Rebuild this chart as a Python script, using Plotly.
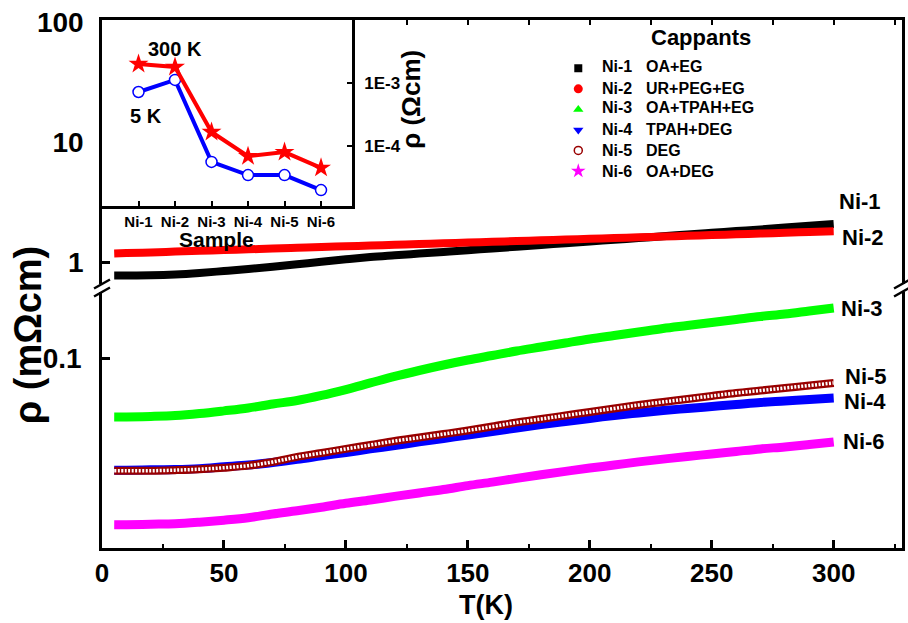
import plotly.graph_objects as go

# ---------------- data ----------------
temps = [5, 10, 20, 30, 40, 50, 60, 70, 80, 90, 100, 110, 120, 130, 140, 150,
         160, 170, 180, 190, 200, 210, 220, 230, 240, 250, 260, 270, 280, 290, 300]

rho_ni1 = [0.772, 0.772, 0.775, 0.787, 0.810, 0.841, 0.874, 0.912, 0.957, 1.006, 1.053,
           1.099, 1.137, 1.175, 1.214, 1.254, 1.298, 1.341, 1.386, 1.434, 1.482, 1.531,
           1.585, 1.637, 1.695, 1.751, 1.809, 1.869, 1.935, 2.003, 2.073]
rho_ni2 = [1.177, 1.186, 1.202, 1.221, 1.240, 1.257, 1.276, 1.293, 1.313, 1.334, 1.352,
           1.372, 1.391, 1.413, 1.431, 1.454, 1.473, 1.496, 1.516, 1.540, 1.561, 1.585,
           1.606, 1.631, 1.653, 1.679, 1.701, 1.727, 1.751, 1.778, 1.803]
rho_ni3 = [0.0568, 0.0568, 0.0571, 0.0576, 0.0587, 0.0602, 0.0619, 0.0643, 0.0665, 0.0698,
           0.0739, 0.0787, 0.0838, 0.0887, 0.0935, 0.0981, 0.1024, 0.1069, 0.1111, 0.1155,
           0.1200, 0.1241, 0.1283, 0.1327, 0.1366, 0.1406, 0.1447, 0.1489, 0.1525, 0.1570,
           0.1616]
rho_ni4 = [0.0341, 0.0341, 0.0342, 0.0343, 0.0346, 0.0352, 0.0358, 0.0367, 0.0378, 0.0391,
           0.0404, 0.0418, 0.0432, 0.0447, 0.0462, 0.0478, 0.0494, 0.0511, 0.0528, 0.0544,
           0.0560, 0.0576, 0.0590, 0.0604, 0.0616, 0.0628, 0.0640, 0.0653, 0.0662, 0.0672,
           0.0681]
rho_ni5 = [0.0339, 0.0339, 0.0339, 0.0341, 0.0344, 0.0349, 0.0356, 0.0369, 0.0387, 0.0402,
           0.0418, 0.0434, 0.0451, 0.0466, 0.0482, 0.0499, 0.0518, 0.0539, 0.0557, 0.0576,
           0.0596, 0.0616, 0.0637, 0.0656, 0.0675, 0.0695, 0.0715, 0.0732, 0.0750, 0.0768,
           0.0787]
rho_ni6 = [0.0202, 0.0202, 0.0203, 0.0204, 0.0207, 0.0211, 0.0216, 0.0224, 0.0231, 0.0239,
           0.0248, 0.0256, 0.0265, 0.0274, 0.0283, 0.0294, 0.0304, 0.0315, 0.0326, 0.0337,
           0.0348, 0.0358, 0.0369, 0.0379, 0.0389, 0.0398, 0.0408, 0.0418, 0.0426, 0.0436,
           0.0447]

samples = ["Ni-1", "Ni-2", "Ni-3", "Ni-4", "Ni-5", "Ni-6"]
cappants = ["OA+EG", "UR+PEG+EG", "OA+TPAH+EG", "TPAH+DEG", "DEG", "OA+DEG"]

# inset (Ohm cm)
inset_300K = [2.0e-3, 1.8e-3, 1.67e-4, 6.9e-5, 8.0e-5, 4.5e-5]
inset_5K = [7.2e-4, 1.12e-3, 5.6e-5, 3.46e-5, 3.46e-5, 2.0e-5]

upper_ticks = [1, 10, 100]
lower_ticks = [0.1]
inset_ticks = [1e-4, 1e-3]
inset_ticktext = ["1E-4", "1E-3"]

# ---------------- style ----------------
FONT = "Liberation Sans"
colors = ["#000000", "#FF0000", "#00FF00", "#0000FF", "#990000", "#FF00FF"]
symbols = ["square", "circle", "triangle-up", "triangle-down", "circle-open", "star"]
msizes = [8, 9, 9, 9, 8, 11]
AXW = 2.5

W, H = 908, 623
L, R, T, B = 102, 3, 20, 75
PW, PH = W - L - R, H - T - B


def px(x):
    return (x - L) / PW


def py(y):
    return (H - B - y) / PH


fig = go.Figure()

upper = [rho_ni1, rho_ni2]
lower = [rho_ni3, rho_ni4, rho_ni5, rho_ni6]

for i, ys in enumerate(upper):
    fig.add_trace(go.Scatter(x=temps, y=ys, mode="lines", xaxis="x2", yaxis="y",
                             line=dict(color=colors[i], width=8, shape="spline"),
                             showlegend=False, hoverinfo="skip"))

for j, ys in enumerate(lower):
    i = j + 2
    if symbols[i] == "circle-open":
        fig.add_trace(go.Scatter(x=temps, y=ys, mode="lines", xaxis="x", yaxis="y2",
                                 line=dict(color=colors[i], width=8, shape="spline"),
                                 showlegend=False, hoverinfo="skip"))
        fig.add_trace(go.Scatter(x=temps, y=ys, mode="lines", xaxis="x", yaxis="y2",
                                 line=dict(color="white", width=3.5, shape="spline",
                                           dash="2px,1.5px"),
                                 showlegend=False, hoverinfo="skip"))
    else:
        fig.add_trace(go.Scatter(x=temps, y=ys, mode="lines", xaxis="x", yaxis="y2",
                                 line=dict(color=colors[i], width=9, shape="spline"),
                                 showlegend=False, hoverinfo="skip"))

# legend swatches (markers only; texts set as annotations below)
for i in range(6):
    mk = dict(symbol=symbols[i], size=msizes[i], color=colors[i])
    if symbols[i] == "circle-open":
        mk["line"] = dict(color=colors[i], width=1.5)
    fig.add_trace(go.Scatter(x=[None], y=[None], mode="markers", xaxis="x", yaxis="y2",
                             marker=mk, name="\u00a0", legendrank=i + 1,
                             showlegend=True))

# inset
fig.add_trace(go.Scatter(x=samples, y=inset_5K, mode="lines+markers", xaxis="x3", yaxis="y3",
                         line=dict(color="#0000FF", width=4),
                         marker=dict(symbol="circle", size=11, color="white",
                                     line=dict(color="#0000FF", width=1.5)),
                         showlegend=False, hoverinfo="skip"))
fig.add_trace(go.Scatter(x=samples, y=inset_300K, mode="lines+markers", xaxis="x3", yaxis="y3",
                         line=dict(color="#FF0000", width=4),
                         marker=dict(symbol="star", size=15, color="#FF0000"),
                         showlegend=False, hoverinfo="skip"))

tickfont_big = dict(family=FONT, size=28, color="black", weight="bold")

fig.update_layout(
    width=W, height=H,
    margin=dict(l=L, r=R, t=T, b=B),
    paper_bgcolor="white", plot_bgcolor="white",
    font=dict(family=FONT, color="black"),
    xaxis=dict(domain=[0, 1], anchor="y2", range=[0, 328], showgrid=False, zeroline=False,
               showline=True, linecolor="black", linewidth=AXW,
               ticks="inside", ticklen=8, tickwidth=2.5, tickcolor="black",
               tickvals=[0, 50, 100, 150, 200, 250, 300],
               minor=dict(dtick=25, ticks="inside", ticklen=4, tickwidth=2, tickcolor="black"),
               tickfont=dict(family=FONT, size=26, color="black", weight="bold"),
               ticklabelstandoff=0),
    xaxis2=dict(domain=[0, 1], anchor="y", side="top", overlaying="x", matches="x",
                range=[0, 328], showgrid=False, zeroline=False,
                showline=True, linecolor="black", linewidth=AXW,
                ticks="inside", ticklen=5, tickwidth=2, tickcolor="black", dtick=25,
                showticklabels=False),
    yaxis=dict(domain=[py(284), 1], anchor="x2", type="log", range=[-0.1833, 2.0167],
               showgrid=False, zeroline=False, showline=True, mirror=True,
               linecolor="black", linewidth=AXW,
               ticks="inside", ticklen=8, tickwidth=2.5, tickcolor="black",
               tickvals=upper_ticks, ticktext=[str(v) for v in upper_ticks],
               tickfont=tickfont_big, ticklabelstandoff=10),
    yaxis2=dict(domain=[0, py(292)], anchor="x", type="log", range=[-1.7917, -0.725],
                showgrid=False, zeroline=False, showline=True, mirror=True,
                linecolor="black", linewidth=AXW,
                ticks="inside", ticklen=8, tickwidth=2.5, tickcolor="black",
                tickvals=lower_ticks, ticktext=[str(v) for v in lower_ticks],
                tickfont=tickfont_big, ticklabelstandoff=12),
    xaxis3=dict(domain=[0, px(353)], anchor="y3", type="category", range=[-1.0, 5.85],
                showgrid=False, zeroline=False, showline=True, linecolor="black",
                linewidth=AXW, ticks="inside", ticklen=5, tickwidth=2, tickcolor="black",
                tickfont=dict(family=FONT, size=15, color="black", weight="bold"),
                ticklabelstandoff=0),
    yaxis3=dict(domain=[py(206), 1], anchor="x3", side="right", type="log",
                range=[-4.952, -2.0], showgrid=False, zeroline=False,
                showline=True, linecolor="black", linewidth=AXW,
                ticks="inside", ticklen=5, tickwidth=2, tickcolor="black",
                tickvals=inset_ticks, ticktext=inset_ticktext,
                tickfont=dict(family=FONT, size=17, color="black", weight="bold"),
                ticklabelstandoff=6),
    legend=dict(x=px(560), y=py(53), xanchor="left", yanchor="top",
                bgcolor="rgba(0,0,0,0)", borderwidth=0, tracegroupgap=0,
                itemwidth=30,
                font=dict(family=FONT, size=13.5, color="black", weight="bold")),
)

annots = []


def add_text(text, x, y, size, angle=0, anchor="center"):
    annots.append(dict(text=text, x=px(x), y=py(y), xref="paper", yref="paper",
                       showarrow=False, textangle=angle, xanchor=anchor, yanchor="middle",
                       font=dict(family=FONT, size=size, color="black", weight="bold")))


add_text("T(K)", 487, 605, 27)
add_text("\u03c1 (m\u03a9cm)", 28, 335, 38, -90)
add_text("Cappants", 703, 38, 22)
leg_rows = [67, 88, 108, 129, 150, 171]
for i in range(6):
    add_text(samples[i], 602, leg_rows[i], 16, anchor="left")
    add_text(cappants[i], 646, leg_rows[i], 16, anchor="left")
label_pos = {"Ni-1": (863, 201), "Ni-2": (866, 238), "Ni-3": (865, 308),
             "Ni-5": (869, 376), "Ni-4": (868, 401), "Ni-6": (867, 441)}
for s in samples:
    add_text(s, label_pos[s][0], label_pos[s][1], 22)
add_text("300 K", 175, 49, 20)
add_text("5 K", 146, 116, 20)
add_text("Sample", 217, 239, 21)
add_text("\u03c1 (\u03a9cm)", 412, 99, 26, -90)

shapes = []
for xa, xb in [(94, 110), (897, 913)]:
    for ya, yb in [(288.5, 279.5), (296.5, 287.5)]:
        shapes.append(dict(type="line", xref="paper", yref="paper",
                           x0=px(xa), y0=py(ya), x1=px(xb), y1=py(yb),
                           line=dict(color="black", width=2.5)))

fig.update_layout(annotations=annots, shapes=shapes)
fig.write_html("out.html")
